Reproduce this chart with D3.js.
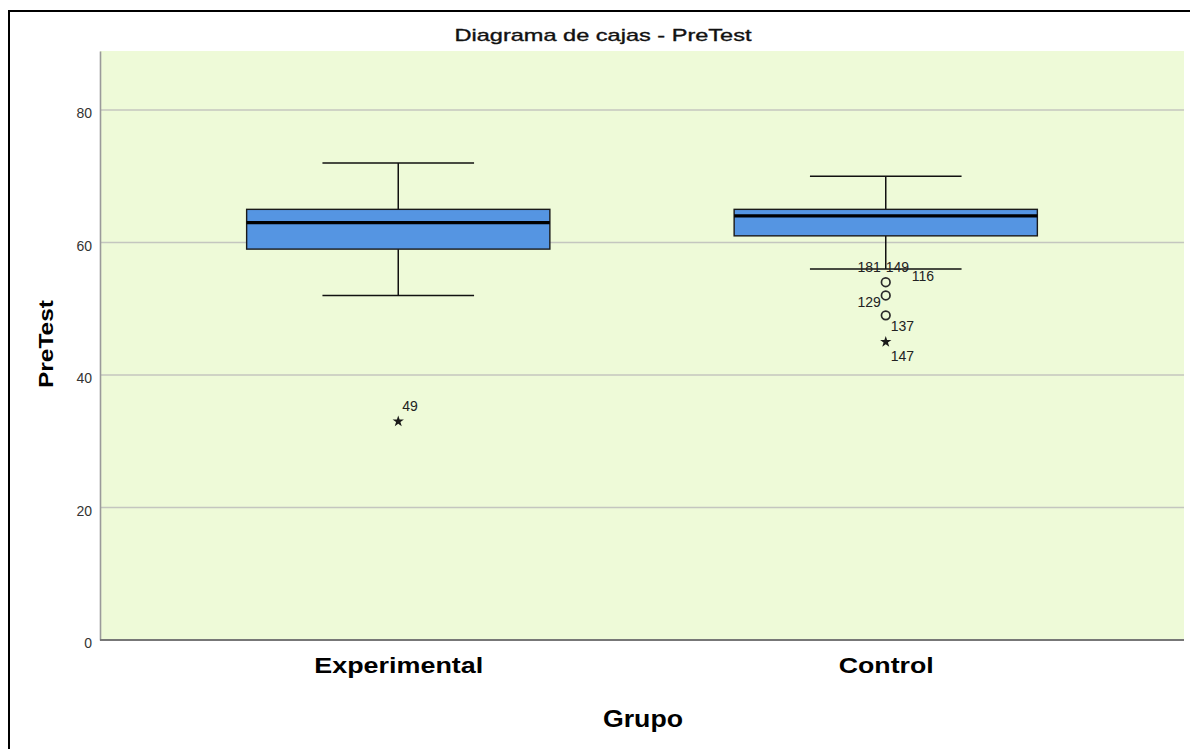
<!DOCTYPE html>
<html>
<head>
<meta charset="utf-8">
<script src="https://cdn.jsdelivr.net/npm/d3@7/dist/d3.min.js"></script>
<style>
  html, body { margin: 0; padding: 0; background: #ffffff; }
  svg { display: block; font-family: "Liberation Sans", Arial, sans-serif; }
</style>
</head>
<body>
<svg id="chart" width="1190" height="749"></svg>
<script>
// ---- data ----
const groups = ["Experimental", "Control"];
const whiskerLow  = [52, 56];
const q1          = [59, 61];
const median      = [63, 64];
const q3          = [65, 65];
const whiskerHigh = [72, 70];
// outliers: group, value, case label, type
const outlierGroup = ["Experimental", "Control", "Control", "Control", "Control", "Control", "Control"];
const outlierValue = [33, 54, 54, 54, 52, 49, 45];
const outlierCase  = ["49", "181", "149", "116", "129", "137", "147"];
const outlierKind  = ["extreme", "outlier", "outlier", "outlier", "outlier", "outlier", "extreme"];
const yTicks = [0, 20, 40, 60, 80];

// label placement (layout only)
const labelLayout = [
  {dx: 4, dy: -10, anchor: "start"},
  {dx: -5, dy: -10, anchor: "end"},
  {dx: 0, dy: -10, anchor: "start"},
  {dx: 26, dy: -1, anchor: "start"},
  {dx: -5, dy: 12, anchor: "end"},
  {dx: 5, dy: 16, anchor: "start"},
  {dx: 5, dy: 19, anchor: "start"}
];

const svg = d3.select("#chart");
const L = 100, R = 1184, T = 51, B = 640;

const x = d3.scalePoint().domain(groups).range([L, R]).padding(0.6118);
const y = d3.scaleLinear().domain([0, 88.9]).range([B, T]);
const boxW = x.step() * 0.622;
const capW = boxW / 2;

// outer frame
svg.append("line").attr("x1", 9).attr("x2", 1190).attr("y1", 11).attr("y2", 11)
  .attr("stroke", "#000").attr("stroke-width", 2);
svg.append("line").attr("x1", 9).attr("x2", 9).attr("y1", 10).attr("y2", 749)
  .attr("stroke", "#000").attr("stroke-width", 2);

// plot background
svg.append("rect").attr("x", L).attr("y", T).attr("width", R - L).attr("height", B - T)
  .attr("fill", "#eefad8");

// gridlines
svg.append("g").selectAll("line").data(yTicks.filter(d => d > 0)).join("line")
  .attr("x1", L).attr("x2", R).attr("y1", d => y(d)).attr("y2", d => y(d))
  .attr("stroke", "#c4c6bf").attr("stroke-width", 1.6);

// y axis
const yAxis = svg.append("g").attr("transform", `translate(${L},0)`)
  .call(d3.axisLeft(y).tickValues(yTicks).tickSize(0).tickPadding(8).tickFormat(d3.format("d")));
yAxis.select(".domain").attr("stroke", "#9a9a9a").attr("stroke-width", 1.6);
yAxis.selectAll("text").attr("font-size", 14).attr("fill", "#333").attr("dy", "0.55em")
  .attr("font-family", "Liberation Sans, Arial, sans-serif");

// x axis
const xAxis = svg.append("g").attr("transform", `translate(0,${B})`)
  .call(d3.axisBottom(x).tickSize(0).tickPadding(0));
xAxis.select(".domain").attr("stroke", "#777").attr("stroke-width", 2)
  .attr("d", `M${L},0H${R}`);
const xLabelLen = {"Experimental": 169, "Control": 95};
xAxis.selectAll("text")
  .attr("y", 33).attr("dy", 0)
  .attr("font-size", 22).attr("font-weight", "bold").attr("fill", "#000")
  .attr("font-family", "Liberation Sans, Arial, sans-serif")
  .attr("textLength", d => xLabelLen[d]).attr("lengthAdjust", "spacingAndGlyphs");

// boxes
const gBox = svg.append("g");
groups.forEach((g, i) => {
  const cx = x(g);
  gBox.append("line").attr("x1", cx).attr("x2", cx).attr("y1", y(q3[i])).attr("y2", y(whiskerHigh[i]))
    .attr("stroke", "#111").attr("stroke-width", 1.5);
  gBox.append("line").attr("x1", cx).attr("x2", cx).attr("y1", y(q1[i])).attr("y2", y(whiskerLow[i]))
    .attr("stroke", "#111").attr("stroke-width", 1.5);
  [whiskerHigh[i], whiskerLow[i]].forEach(v => {
    gBox.append("line").attr("x1", cx - capW / 2).attr("x2", cx + capW / 2).attr("y1", y(v)).attr("y2", y(v))
      .attr("stroke", "#111").attr("stroke-width", 1.5);
  });
  gBox.append("rect").attr("x", cx - boxW / 2).attr("width", boxW)
    .attr("y", y(q3[i])).attr("height", y(q1[i]) - y(q3[i]))
    .attr("fill", "#5595e2").attr("stroke", "#1a1a1a").attr("stroke-width", 1.4);
  gBox.append("line").attr("x1", cx - boxW / 2).attr("x2", cx + boxW / 2).attr("y1", y(median[i])).attr("y2", y(median[i]))
    .attr("stroke", "#000").attr("stroke-width", 3.2);
});

// outliers
const outliers = outlierValue.map((v, i) => ({g: outlierGroup[i], v, c: outlierCase[i], k: outlierKind[i], lay: labelLayout[i]}));
const gOut = svg.append("g");
const seen = new Set();
outliers.forEach(o => {
  const key = o.g + o.v;
  const cx = x(o.g), cy = y(o.v);
  if (!seen.has(key)) {
    seen.add(key);
    if (o.k === "outlier") {
      gOut.append("circle").attr("cx", cx).attr("cy", cy).attr("r", 4.3)
        .attr("fill", "none").attr("stroke", "#2a2a2a").attr("stroke-width", 1.7);
    } else {
      gOut.append("path").attr("d", d3.symbol(d3.symbolStar, 40)())
        .attr("transform", `translate(${cx},${cy})`).attr("fill", "#1a1a1a");
    }
  }
  gOut.append("text").attr("x", cx + o.lay.dx).attr("y", cy + o.lay.dy)
    .attr("text-anchor", o.lay.anchor).attr("font-size", 14).attr("fill", "#222")
    .text(o.c);
});

// title
svg.append("text").attr("x", 603).attr("y", 41).attr("text-anchor", "middle")
  .attr("font-size", 17).attr("fill", "#111").attr("stroke", "#111").attr("stroke-width", 0.35)
  .attr("textLength", 297).attr("lengthAdjust", "spacingAndGlyphs")
  .text("Diagrama de cajas - PreTest");

// axis titles
svg.append("text").attr("x", 643).attr("y", 727).attr("text-anchor", "middle")
  .attr("font-size", 24).attr("font-weight", "bold").attr("fill", "#000")
  .attr("textLength", 80).attr("lengthAdjust", "spacingAndGlyphs")
  .text("Grupo");
svg.append("text").attr("transform", "translate(53,344) rotate(-90)").attr("text-anchor", "middle")
  .attr("font-size", 21).attr("font-weight", "bold").attr("fill", "#000")
  .attr("textLength", 88).attr("lengthAdjust", "spacingAndGlyphs")
  .text("PreTest");
</script>
</body>
</html>
